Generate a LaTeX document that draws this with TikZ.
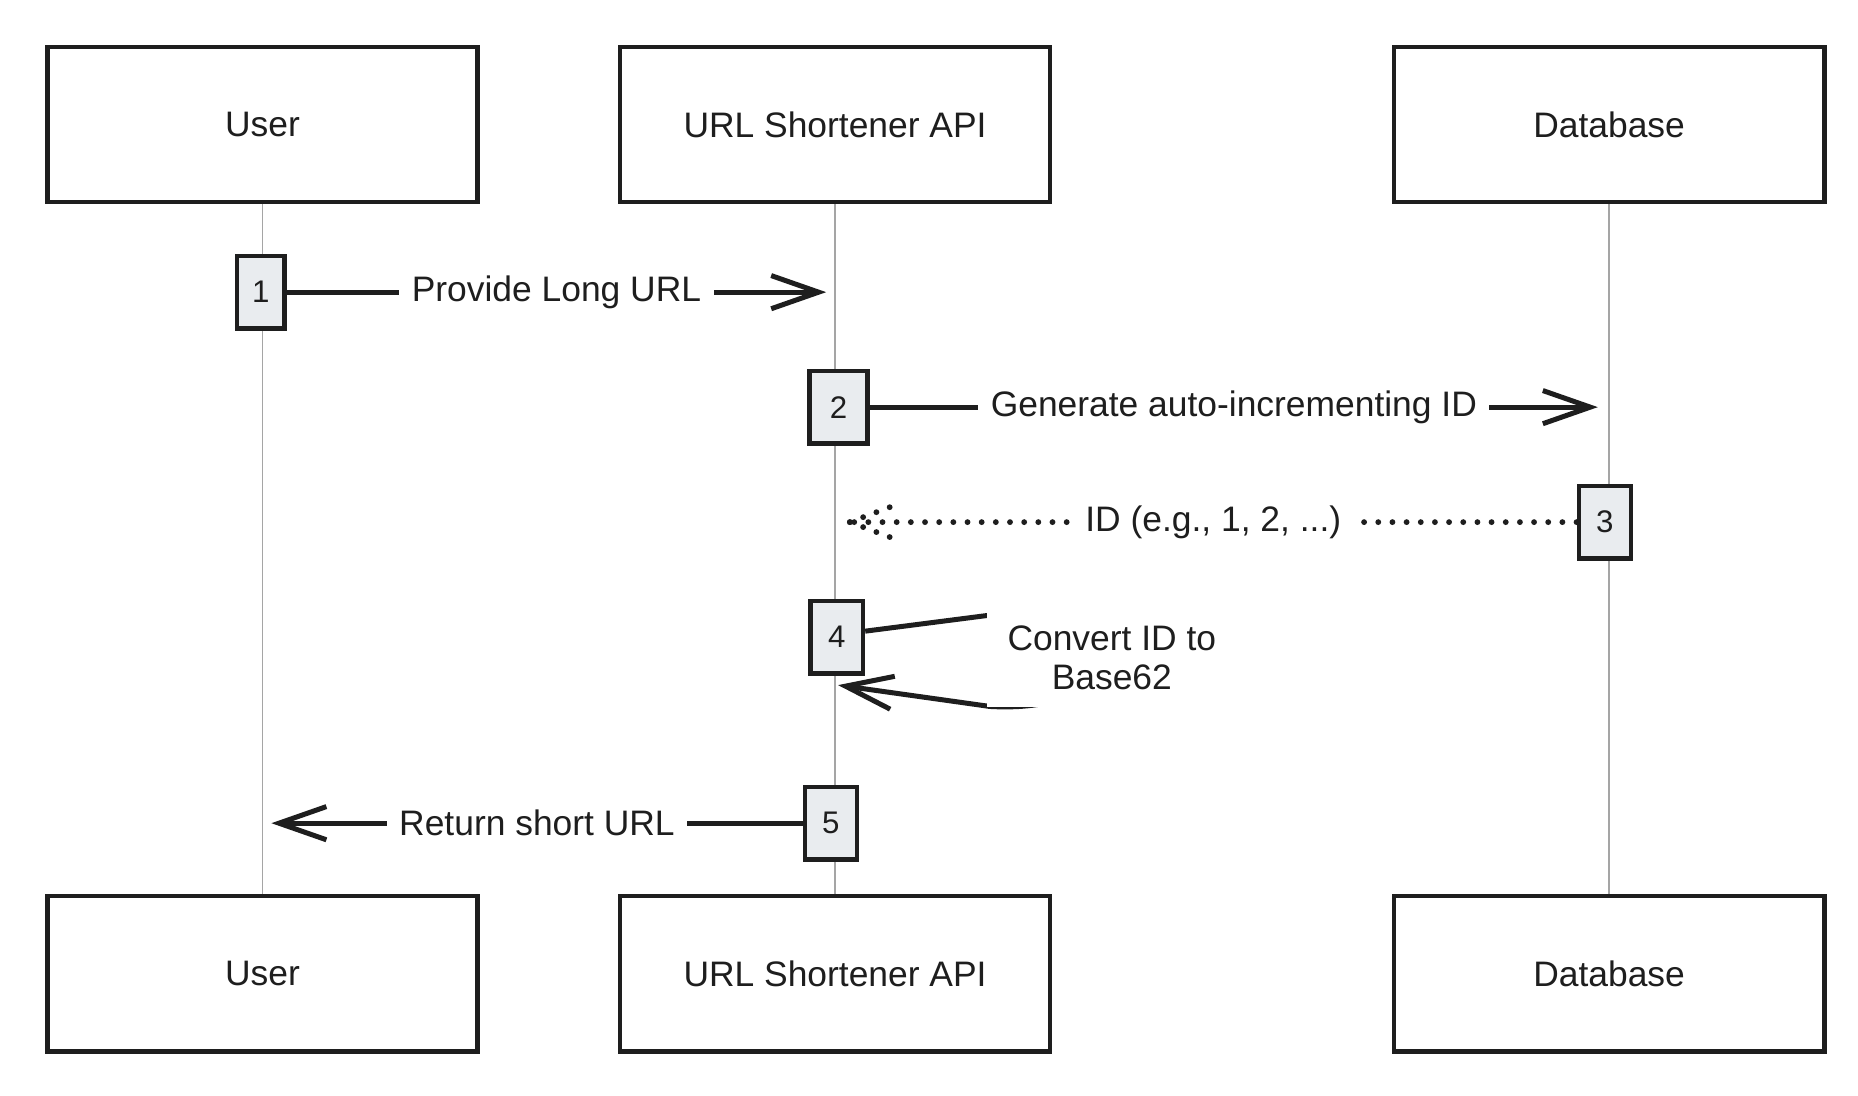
\documentclass[tikz,border=0pt]{standalone}
\usepackage{fontspec}
\setmainfont{Liberation Sans}
\usetikzlibrary{arrows.meta}
\definecolor{K}{RGB}{30,30,30}
\definecolor{A}{RGB}{233,236,239}
\definecolor{L}{RGB}{165,165,165}

\tikzset{
  actor/.style={draw=K, line width=1.1pt, fill=white, minimum width=3.63cm, minimum height=1.31cm, text=K, font=\fontsize{8.5}{10}\selectfont},
  act/.style={draw=K, line width=1.1pt, fill=A, minimum width=0.44cm, minimum height=0.61cm, inner sep=0pt, text=K, font=\fontsize{7.5}{9}\selectfont},
  life/.style={draw=L, line width=0.45pt},
  msg/.style={draw=K, line width=1.2pt, -{Straight Barb[length=4mm,width=2.8mm,line width=1.2pt]}},
  ret/.style={draw=K, line width=1.4pt, line cap=round, dash pattern=on 0pt off 3.4pt},
  lbl/.style={fill=white, inner xsep=3pt, inner ysep=2pt, text=K, font=\fontsize{8.5}{9.5}\selectfont}
}

\begin{document}
\begin{tikzpicture}[x=0.1mm, y=-0.1mm]
    \useasboundingbox (0,0) rectangle (1567.5,924.6);

    %Participantes arriba
    \node[actor] (user) at (221.5,105) {User};
    \node[actor] (api) at (704.5,105) {URL Shortener API};
    \node[actor] (db) at (1357.5,105) {Database};

    %Participantes abajo
    \node[actor] (userb) at (221.5,821.5) {User};
    \node[actor] (apib) at (704.5,821.5) {URL Shortener API};
    \node[actor] (dbb) at (1357.5,821.5) {Database};

    %Lineas de vida
    \draw[life] (user) -- (userb);
    \draw[life] (api) -- (apib);
    \draw[life] (db) -- (dbb);

    %Activaciones
    \node[act, minimum width=0.4cm] (b1) at (220,246.5) {1};
    \node[act, minimum width=0.49cm] (b2) at (707.5,343.5) {2};
    \node[act] (b3) at (1354,440.5) {3};
    \node[act] (b4) at (706,537.5) {4};
    \node[act] (b5) at (701,694.5) {5};

    %Puntas de los mensajes
    \coordinate (m1) at (697,246.5);
    \coordinate (m2) at (1348,343.5);
    \coordinate (m3) at (717,440.5);
    \coordinate (m4) at (707,578);
    \coordinate (m5) at (229,694.5);

    %Mensajes
    \draw[msg] (b1.east) -- node[lbl] {Provide Long URL} (m1);
    \draw[msg] (b2.east) -- node[lbl] {Generate auto-incrementing ID} (m2);
    \draw[ret] (b3.west) -- node[lbl] {ID (e.g., 1, 2, ...)} (m3);
    \draw[ret] (m3) -- ++(40,-15);
    \draw[ret] (m3) -- ++(40,15);

    %Mensaje a si mismo (la curva queda detras del texto)
    \draw[msg] ([yshift=0.5mm]b4.east) -- (835,519) .. controls (960,509) and (960,603) .. (835,596) -- (m4);
    \node[lbl, align=center, inner xsep=5pt, inner ysep=4pt] (c4) at (938,555) {Convert ID to\\Base62};

    \draw[msg] (b5.west) -- node[lbl] {Return short URL} (m5);
\end{tikzpicture}
\end{document}
